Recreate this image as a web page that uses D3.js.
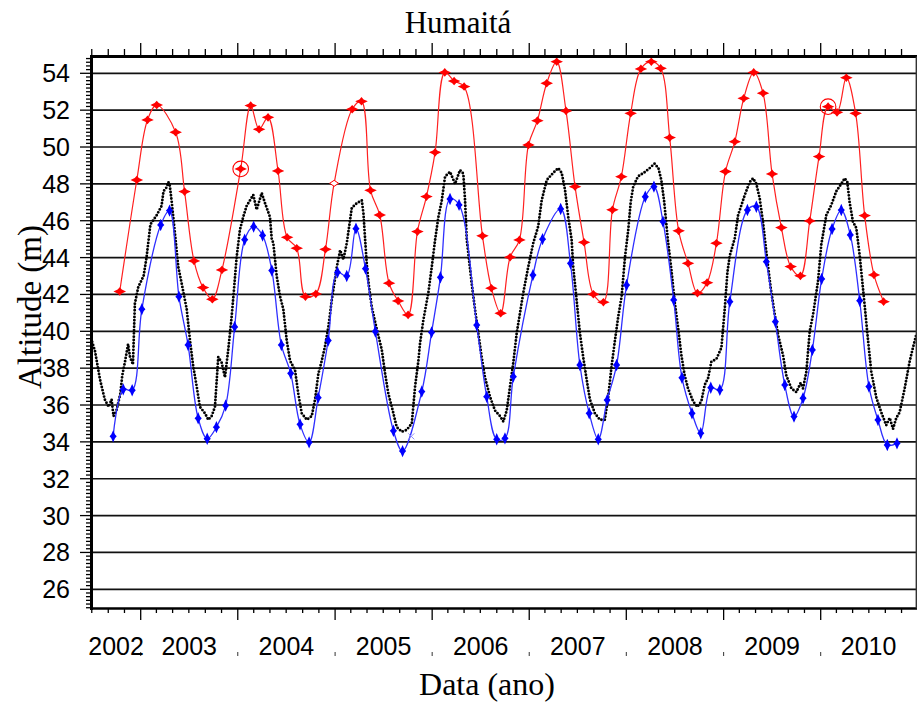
<!DOCTYPE html>
<html>
<head>
<meta charset="utf-8">
<script src="https://cdn.jsdelivr.net/npm/d3@7"></script>
<style>
  html, body { margin: 0; padding: 0; background: #fff; }
  svg { display: block; }
  .tick-label { font-family: "Liberation Sans", Arial, sans-serif; font-size: 25px; fill: #000; }
  .serif { font-family: "Liberation Serif", "Times New Roman", serif; fill: #000; }
</style>
</head>
<body>
<svg id="chart" width="917" height="704"></svg>
<script>
// gauge record (black dots): [decimal year, altitude m]
const gauge = [
  [2002.49,39.6],[2002.53,38.9],[2002.58,37.4],[2002.63,36.3],[2002.67,35.9],[2002.70,36.3],[2002.72,35.4],[2002.75,35.7],
  [2002.79,36.6],[2002.81,37.6],[2002.84,38.4],[2002.87,39.3],[2002.89,38.6],[2002.92,38.2],[2002.94,41.5],[2002.975,42.4],
  [2003.03,43.0],[2003.06,44.0],[2003.10,45.8],[2003.165,46.3],[2003.215,46.8],[2003.235,47.6],[2003.265,47.8],[2003.285,48.1],
  [2003.30,47.9],[2003.32,47.0],[2003.353,45.3],[2003.387,43.5],[2003.422,42.6],[2003.474,41.2],[2003.508,39.5],[2003.541,38.1],
  [2003.577,37.0],[2003.61,35.9],[2003.662,35.55],[2003.696,35.2],[2003.731,35.4],[2003.765,35.9],[2003.799,38.6],[2003.834,38.3],
  [2003.868,37.5],[2003.902,39.0],[2003.937,40.8],[2003.96,42.2],[2003.988,44.0],[2004.022,45.5],[2004.056,46.2],[2004.091,46.8],
  [2004.108,46.95],[2004.159,47.4],[2004.194,46.6],[2004.246,47.5],[2004.28,46.95],[2004.331,46.2],[2004.349,45.0],[2004.365,44.8],
  [2004.40,43.0],[2004.434,41.9],[2004.468,41.2],[2004.503,39.5],[2004.537,38.4],[2004.588,37.9],[2004.622,36.6],[2004.657,35.55],
  [2004.709,35.2],[2004.76,35.4],[2004.794,36.3],[2004.828,37.7],[2004.863,38.4],[2004.897,39.2],[2004.931,40.25],[2004.966,41.7],
  [2005.018,43.5],[2005.052,44.4],[2005.086,43.9],[2005.121,44.8],[2005.172,46.7],[2005.224,46.95],[2005.275,47.1],[2005.292,46.4],
  [2005.309,45.0],[2005.327,43.6],[2005.345,42.6],[2005.378,41.3],[2005.43,40.1],[2005.481,39.0],[2005.515,37.7],[2005.549,36.6],
  [2005.584,35.9],[2005.635,34.8],[2005.687,34.55],[2005.738,34.65],[2005.79,35.0],[2005.824,37.0],[2005.858,38.4],[2005.875,39.35],
  [2005.909,40.6],[2005.961,42.1],[2005.996,43.5],[2006.03,44.95],[2006.064,46.2],[2006.099,47.1],[2006.133,48.4],[2006.184,48.65],
  [2006.236,48.0],[2006.287,48.75],[2006.321,48.55],[2006.339,47.1],[2006.356,45.0],[2006.407,42.6],[2006.441,41.2],[2006.475,39.9],
  [2006.51,38.6],[2006.544,37.5],[2006.596,36.45],[2006.647,35.7],[2006.699,35.4],[2006.733,35.1],[2006.768,35.7],[2006.802,37.0],
  [2006.836,38.3],[2006.871,39.9],[2006.905,41.0],[2006.939,42.1],[2006.99,43.5],[2007.042,44.8],[2007.093,45.7],[2007.128,47.1],
  [2007.18,48.2],[2007.248,48.6],[2007.299,48.85],[2007.334,48.6],[2007.368,47.7],[2007.402,46.2],[2007.437,44.95],[2007.453,43.5],
  [2007.488,41.7],[2007.522,39.9],[2007.556,38.6],[2007.591,37.4],[2007.625,36.3],[2007.676,35.55],[2007.728,35.2],[2007.779,35.2],
  [2007.814,36.45],[2007.848,38.1],[2007.883,39.5],[2007.917,40.8],[2007.952,41.9],[2007.986,44.0],[2008.02,45.5],[2008.045,47.0],
  [2008.071,47.85],[2008.12,48.4],[2008.18,48.6],[2008.24,48.85],[2008.29,49.1],[2008.33,48.85],[2008.36,48.2],[2008.39,47.0],
  [2008.428,44.9],[2008.462,43.4],[2008.497,41.6],[2008.532,40.2],[2008.566,38.7],[2008.60,37.6],[2008.634,36.9],[2008.686,36.2],
  [2008.73,35.9],[2008.771,36.2],[2008.806,37.1],[2008.84,37.45],[2008.874,38.35],[2008.926,38.5],[2008.977,39.1],[2009.012,41.25],
  [2009.039,43.2],[2009.063,44.1],[2009.115,45.05],[2009.149,46.3],[2009.218,47.4],[2009.269,48.1],[2009.303,48.3],[2009.337,48.0],
  [2009.372,47.2],[2009.406,45.9],[2009.44,44.3],[2009.486,42.3],[2009.527,40.9],[2009.561,39.8],[2009.612,38.7],[2009.646,37.6],
  [2009.698,36.9],[2009.749,36.7],[2009.794,37.2],[2009.818,36.9],[2009.852,37.8],[2009.887,40.0],[2009.921,40.9],[2009.972,42.7],
  [2010.006,44.7],[2010.058,46.3],[2010.109,46.85],[2010.161,47.6],[2010.212,48.0],[2010.247,48.3],[2010.274,48.1],[2010.298,47.0],
  [2010.332,45.95],[2010.367,45.6],[2010.402,44.1],[2010.453,41.4],[2010.486,39.6],[2010.521,37.8],[2010.573,36.4],[2010.624,35.6],
  [2010.675,34.9],[2010.711,35.3],[2010.745,34.7],[2010.779,35.3],[2010.813,35.6],[2010.865,36.9],[2010.916,38.35],[2010.95,39.1],
  [2010.984,39.8]
]

// altimetry, blue series
const blueSeries = [
  [2002.716,34.3],[2002.82,36.85],[2002.912,36.8],[2003.012,41.2],[2003.206,45.77],[2003.297,46.55],[2003.394,41.88],
  [2003.488,39.26],[2003.592,35.28],[2003.685,34.17],[2003.78,34.8],[2003.875,35.97],[2003.968,40.24],[2004.071,44.97],
  [2004.163,45.68],[2004.255,45.2],[2004.35,43.3],[2004.448,39.26],[2004.544,37.72],[2004.64,34.95],[2004.733,33.97],
  [2004.826,36.4],[2004.929,39.5],[2005.025,43.2],[2005.12,43.0],[2005.215,45.57],[2005.313,43.4],[2005.415,39.99],
  [2005.601,34.6],[2005.695,33.5],[2005.893,36.73],[2005.994,39.94],[2006.085,42.93],[2006.184,47.18],[2006.277,46.86],
  [2006.459,40.34],[2006.562,36.45],[2006.665,34.14],[2006.75,34.19],[2006.836,37.54],[2007.038,43.05],[2007.137,45.0],
  [2007.324,46.64],[2007.425,43.69],[2007.522,38.17],[2007.618,35.55],[2007.711,34.14],[2007.803,36.27],[2007.9,38.17],
  [2008.003,42.51],[2008.195,47.3],[2008.284,47.85],[2008.377,45.95],[2008.487,41.7],[2008.572,37.48],[2008.675,35.55],
  [2008.765,34.47],[2008.868,36.94],[2008.961,36.82],[2009.064,41.61],[2009.245,46.58],[2009.337,46.76],[2009.44,43.78],
  [2009.533,40.52],[2009.63,37.09],[2009.725,35.37],[2009.818,36.37],[2009.914,38.99],[2010.01,42.84],[2010.117,45.55],
  [2010.212,46.58],[2010.305,45.23],[2010.402,41.66],[2010.497,37.0],[2010.59,35.19],[2010.686,33.83],[2010.786,33.92]
]
const blueRejected = [[2005.785,34.3]]

// altimetry, red series
const redSeries = [
  [2002.784,42.16],[2002.96,48.21],[2003.07,51.47],[2003.165,52.28],[2003.36,50.8],[2003.452,47.58],[2003.549,43.82],
  [2003.642,42.37],[2003.738,41.74],[2003.837,43.33],[2004.03,48.81],[2004.133,52.25],[2004.219,50.96],[2004.311,51.61],
  [2004.414,48.7],[2004.507,45.1],[2004.606,44.51],[2004.695,41.88],[2004.802,42.03],[2004.901,44.45],[2004.99,48.03],
  [2005.176,52.05],[2005.272,52.48],[2005.365,47.65],[2005.46,46.31],[2005.556,42.61],[2005.649,41.65],[2005.752,40.89],
  [2005.848,45.41],[2005.941,47.31],[2006.03,49.71],[2006.13,54.05],[2006.226,53.58],[2006.329,53.28],[2006.518,45.18],
  [2006.61,42.34],[2006.706,40.98],[2006.803,44.02],[2006.899,44.96],[2006.992,50.11],[2007.084,51.43],[2007.18,53.46],
  [2007.283,54.63],[2007.379,51.96],[2007.472,47.85],[2007.565,44.83],[2007.661,42.01],[2007.764,41.58],[2007.857,46.59],
  [2007.949,48.39],[2008.045,51.83],[2008.15,54.24],[2008.257,54.63],[2008.353,54.27],[2008.446,50.51],[2008.538,45.45],
  [2008.634,43.69],[2008.731,42.07],[2008.83,42.64],[2008.926,44.78],[2009.019,48.67],[2009.115,50.29],[2009.207,52.64],
  [2009.31,54.05],[2009.406,52.92],[2009.499,48.54],[2009.595,45.63],[2009.691,43.51],[2009.791,43.01],[2009.887,45.99],
  [2009.983,49.48],[2010.076,52.19],[2010.168,51.88],[2010.264,53.76],[2010.36,51.83],[2010.453,46.28],[2010.549,43.06],
  [2010.648,41.61]
]
const redCircled = [[2004.03,48.81],[2010.076,52.19]]
const redOpen = [[2004.99,48.03]]

const yTickValues = [26, 28, 30, 32, 34, 36, 38, 40, 42, 44, 46, 48, 50, 52, 54]
const yearLabels = [2002, 2003, 2004, 2005, 2006, 2007, 2008, 2009, 2010]

const title = 'Humaitá'
    , xTitle = 'Data (ano)'
    , yTitle = 'Altitude (m)'

const plotLeft = 91.5
    , plotRight = 916.5
    , plotTop = 56.5
    , plotBottom = 608.5
    , toDate = y => {
        const yr = Math.floor(y)
        const a = new Date(yr, 0, 1), b = new Date(yr + 1, 0, 1)
        return new Date(a.getTime() + (y - yr) * (b - a))
    }
    , x = d3.scaleTime()
        .domain([new Date(2003, 0, 1), new Date(2010, 0, 1)])
        .range([140.7, 820.7])
    , y = d3.scaleLinear()
        .domain([26, 54])
        .range([589.3, 73.3])
    , px = d => x(toDate(d[0]))
    , py = d => y(d[1])
    , svg = d3.select('#chart')

// grid lines
svg.append('g')
    .selectAll('line')
    .data(yTickValues)
    .join('line')
    .attr('x1', plotLeft).attr('x2', plotRight)
    .attr('y1', y).attr('y2', y)
    .attr('stroke', '#111').attr('stroke-width', 1.7)

// clip to the frame
svg.append('defs').append('clipPath').attr('id', 'plot-clip')
    .append('rect')
    .attr('x', plotLeft).attr('y', plotTop)
    .attr('width', plotRight - plotLeft).attr('height', plotBottom - plotTop)

const plot = svg.append('g').attr('clip-path', 'url(#plot-clip)')

// gauge series as a dense dotted trace
plot.append('path')
    .datum(gauge)
    .attr('d', d3.line().x(px).y(py))
    .attr('fill', 'none')
    .attr('stroke', '#000')
    .attr('stroke-width', 2.9)
    .attr('stroke-linecap', 'round')
    .attr('stroke-dasharray', '0 3.3')

const smooth = d3.line().x(px).y(py).curve(d3.curveCatmullRom.alpha(0.5))

plot.append('path')
    .datum(blueSeries)
    .attr('d', smooth)
    .attr('fill', 'none')
    .attr('stroke', '#2f2fff')
    .attr('stroke-width', 1.3)

plot.append('path')
    .datum(redSeries)
    .attr('d', smooth)
    .attr('fill', 'none')
    .attr('stroke', '#ff2020')
    .attr('stroke-width', 1.2)

const redStar = 'M-6.3,0L-2.1,-1.9L0,-4.3L2.1,-1.9L6.3,0L2.1,1.9L0,4.3L-2.1,1.9Z'
    , blueDiamond = 'M0,-6.2L1.9,-1.9L3.6,0L1.9,1.9L0,6.2L-1.9,1.9L-3.6,0L-1.9,-1.9Z'

plot.append('g')
    .selectAll('path')
    .data(blueSeries)
    .join('path')
    .attr('transform', d => `translate(${px(d)},${py(d)})`)
    .attr('d', blueDiamond)
    .attr('fill', '#0000ff')

plot.append('g')
    .selectAll('path')
    .data(blueRejected)
    .join('path')
    .attr('transform', d => `translate(${px(d)},${py(d)})`)
    .attr('d', 'M-3,-3L3,3M-3,3L3,-3')
    .attr('stroke', '#8c8cff')
    .attr('stroke-width', 1)

plot.append('g')
    .selectAll('path')
    .data(redSeries.filter(d => !redOpen.some(o => o[0] === d[0])))
    .join('path')
    .attr('transform', d => `translate(${px(d)},${py(d)})`)
    .attr('d', redStar)
    .attr('fill', '#ff0000')

plot.append('g')
    .selectAll('path')
    .data(redOpen)
    .join('path')
    .attr('transform', d => `translate(${px(d)},${py(d)})`)
    .attr('d', 'M-4.5,0L0,-3L4.5,0L0,3Z')
    .attr('fill', '#fff')
    .attr('stroke', '#ff0000')
    .attr('stroke-width', 1)

plot.append('g')
    .selectAll('circle')
    .data(redCircled)
    .join('circle')
    .attr('cx', px).attr('cy', py)
    .attr('r', 7.8)
    .attr('fill', 'none')
    .attr('stroke', '#ff0000')
    .attr('stroke-width', 1.1)

// y ticks, outside left
const yMinor = d3.range(25, 55.01, 0.2).map(v => Math.round(v * 10) / 10)
svg.append('g')
    .selectAll('line')
    .data(yMinor.filter(v => y(v) >= plotTop - 0.5 && y(v) <= plotBottom + 0.5))
    .join('line')
    .attr('x1', v => Math.abs(v / 2 - Math.round(v / 2)) < 1e-6 ? 80 : 86)
    .attr('x2', plotLeft)
    .attr('y1', y).attr('y2', y)
    .attr('stroke', '#000').attr('stroke-width', 1.3)

svg.append('g')
    .selectAll('text')
    .data(yTickValues)
    .join('text')
    .attr('class', 'tick-label')
    .attr('x', 70)
    .attr('y', v => y(v) + 9)
    .attr('text-anchor', 'end')
    .text(v => v)

// x ticks, top and bottom
const monthTicks = d3.timeMonth.every(2).range(x.invert(plotLeft - 0.5), x.invert(plotRight + 0.5))
    , isYear = d => d.getMonth() === 0
svg.append('g')
    .selectAll('line')
    .data(monthTicks)
    .join('line')
    .attr('x1', x).attr('x2', x)
    .attr('y1', d => isYear(d) ? 43 : 49)
    .attr('y2', plotTop)
    .attr('stroke', '#000').attr('stroke-width', 1.3)
svg.append('g')
    .selectAll('line')
    .data(monthTicks)
    .join('line')
    .attr('x1', x).attr('x2', x)
    .attr('y1', plotBottom)
    .attr('y2', d => isYear(d) ? 620 : 613)
    .attr('stroke', '#000').attr('stroke-width', 1.3)
svg.append('g')
    .selectAll('line')
    .data(monthTicks.filter(isYear))
    .join('line')
    .attr('x1', x).attr('x2', x)
    .attr('y1', 652).attr('y2', 656)
    .attr('stroke', '#333').attr('stroke-width', 1)

svg.append('g')
    .selectAll('text')
    .data(yearLabels)
    .join('text')
    .attr('class', 'tick-label')
    .attr('x', yr => (Math.max(x(new Date(yr, 0, 1)), plotLeft) + Math.min(x(new Date(yr + 1, 0, 1)), plotRight)) / 2)
    .attr('y', 655)
    .attr('text-anchor', 'middle')
    .text(yr => yr)

// frame
svg.append('line').attr('x1', plotLeft).attr('x2', plotLeft).attr('y1', plotTop - 1.5).attr('y2', plotBottom + 1.5)
    .attr('stroke', '#000').attr('stroke-width', 3)
svg.append('line').attr('x1', plotLeft).attr('x2', plotRight + 0.5).attr('y1', plotTop).attr('y2', plotTop)
    .attr('stroke', '#000').attr('stroke-width', 3)
svg.append('line').attr('x1', plotLeft).attr('x2', plotRight + 0.5).attr('y1', plotBottom).attr('y2', plotBottom)
    .attr('stroke', '#000').attr('stroke-width', 2.6)
svg.append('line').attr('x1', plotRight).attr('x2', plotRight).attr('y1', plotTop).attr('y2', plotBottom)
    .attr('stroke', '#333').attr('stroke-width', 1.8)

// titles
svg.append('text')
    .attr('class', 'serif')
    .attr('x', 458).attr('y', 33)
    .attr('text-anchor', 'middle')
    .style('font-size', '31px')
    .text(title)
svg.append('text')
    .attr('class', 'serif')
    .attr('x', 487).attr('y', 695)
    .attr('text-anchor', 'middle')
    .style('font-size', '32px')
    .text(xTitle)
svg.append('text')
    .attr('class', 'serif')
    .attr('transform', 'translate(41,307) rotate(-90)')
    .attr('text-anchor', 'middle')
    .style('font-size', '33px')
    .text(yTitle)
</script>
</body>
</html>
